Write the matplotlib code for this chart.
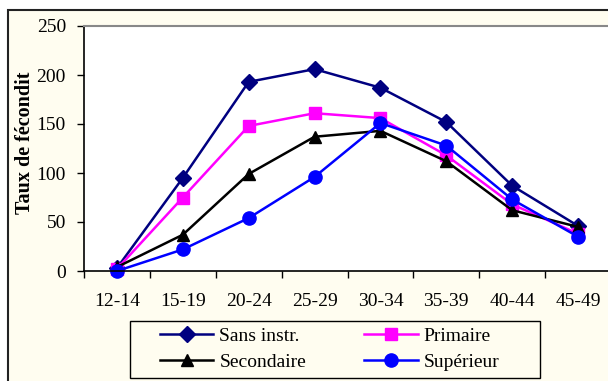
import matplotlib.pyplot as plt
from matplotlib.patches import Rectangle
import numpy as np

ages = ['12-14', '15-19', '20-24', '25-29', '30-34', '35-39', '40-44', '45-49']
sans_instr = [3, 95, 193, 206, 187, 152, 87, 46]
primaire = [2, 75, 148, 161, 156, 118, 68, 38]
secondaire = [4, 37, 99, 137, 143, 112, 62, 45]
superieur = [0, 22, 54, 96, 151, 128, 73, 35]

serif = ['Liberation Serif', 'DejaVu Serif']
plt.rcParams['font.family'] = serif

W, H = 608, 381
fig = plt.figure(figsize=(W / 100, H / 100), dpi=100, facecolor='white')

# cream frame of the chart area (cut by the image at right and bottom)
cream = '#fffdf0'
fig.patches.append(Rectangle((8 / W, -0.1), 1.2, (H - 10) / H + 0.1,
                             transform=fig.transFigure, facecolor=cream,
                             edgecolor='#222222', linewidth=1.5, zorder=-5))
# legend box
fig.patches.append(Rectangle((130 / W, 1 - 378 / H), 410 / W, 57 / H,
                             transform=fig.transFigure, facecolor=cream,
                             edgecolor='black', linewidth=1, zorder=-4))

ax = fig.add_axes([84 / W, (H - 271) / H, (611 - 84) / W, 245 / H])
ax.set_facecolor('white')

x = np.arange(len(ages))
ax.plot(x, sans_instr, color='#000080', marker='D', markersize=8, lw=1.8, label='Sans instr.', clip_on=False)
ax.plot(x, primaire, color='#ff00ff', marker='s', markersize=8.5, lw=1.8, label='Primaire', clip_on=False)
ax.plot(x, secondaire, color='black', marker='^', markersize=9, lw=1.8, label='Secondaire', clip_on=False)
ax.plot(x, superieur, color='#0000ff', marker='o', markersize=9.5, lw=1.8, label='Supérieur', clip_on=False)

ax.set_xlim(-0.5, 7.5)
ax.set_ylim(0, 250)
ax.set_yticks([0, 50, 100, 150, 200, 250])
ax.set_xticks(x)
ax.set_xticklabels(ages)
ax.set_xticks(np.arange(-0.5, 8, 1), minor=True)
ax.tick_params(axis='x', which='major', length=0, pad=16, labelsize=14)
ax.tick_params(axis='x', which='minor', length=5, width=1)
ax.tick_params(axis='y', length=5, width=1, labelsize=14, pad=8)

ax.spines['top'].set_color('#888888')
ax.spines['top'].set_linewidth(1.5)
ax.spines['right'].set_visible(False)
ax.spines['left'].set_linewidth(1.2)
ax.spines['bottom'].set_linewidth(1.2)

fig.text(25 / W, 1 - 143 / H, 'Taux de fécondit', rotation=90, ha='center', va='center',
         fontsize=14.5, fontweight='bold', family=serif)

handles, labels = ax.get_legend_handles_labels()
order = [0, 2, 1, 3]
leg = fig.legend([handles[i] for i in order], [labels[i] for i in order], ncol=2,
                 loc='center left', bbox_to_anchor=(160 / W, 1 - 349 / H),
                 frameon=False, prop={'family': serif, 'size': 14},
                 handlelength=2.75, borderpad=0, borderaxespad=0,
                 columnspacing=3.0, labelspacing=0.45, handletextpad=0.3)

fig.savefig('out.png', dpi=100, facecolor='white')
